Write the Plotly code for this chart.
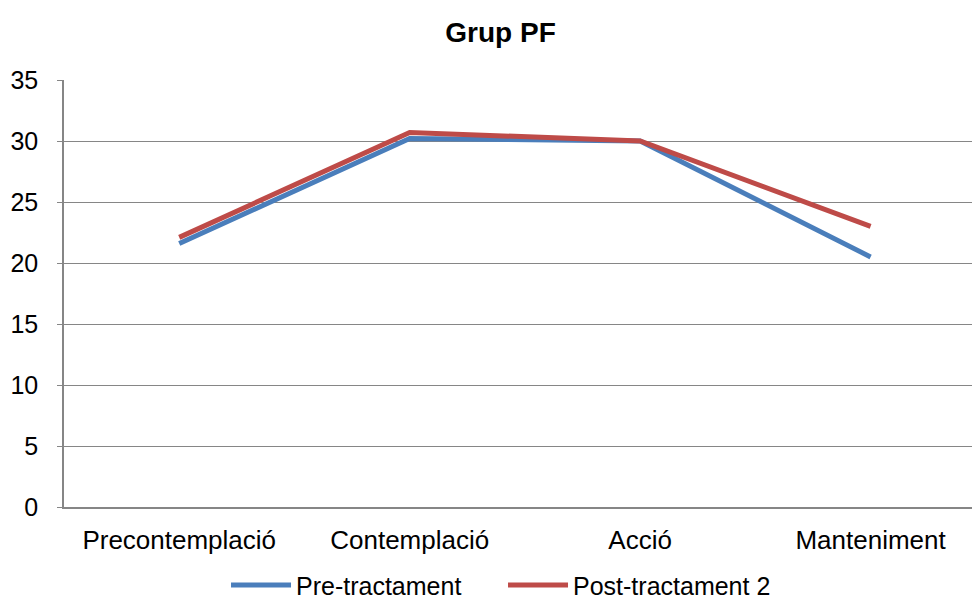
import plotly.graph_objects as go

categories = ["Precontemplació", "Contemplació", "Acció", "Manteniment"]
pre = [21.6, 30.2, 30.0, 20.5]
post = [22.1, 30.7, 30.0, 23.0]
y_ticks = [0, 5, 10, 15, 20, 25, 30, 35]

fig = go.Figure()
fig.add_trace(go.Scatter(x=categories, y=pre, mode="lines", name="Pre-tractament",
                         line=dict(color="#4A7EBB", width=5)))
fig.add_trace(go.Scatter(x=categories, y=post, mode="lines", name="Post-tractament 2",
                         line=dict(color="#BE4B48", width=5)))

font_family = "Liberation Sans, Arial, sans-serif"
fig.update_layout(
    width=972, height=605,
    paper_bgcolor="white", plot_bgcolor="white",
    margin=dict(l=64, r=0, t=80, b=98, autoexpand=False),
    title=dict(text="<b>Grup PF</b>", x=0.515, xanchor="center", y=0.947, yanchor="middle",
               font=dict(family=font_family, size=28, color="black")),
    font=dict(family=font_family, size=26, color="black"),
    showlegend=True,
    legend=dict(orientation="h", x=0.4835, xanchor="center", y=-0.183, yanchor="middle",
                bgcolor="rgba(0,0,0,0)", font=dict(size=25), itemwidth=60,
                entrywidth=202, entrywidthmode="pixels"),
    xaxis=dict(range=[-0.5, 3.44], showgrid=False, showline=True, linecolor="#868686",
               linewidth=1.5, ticks="", tickfont=dict(size=26), ticklabelstandoff=9,
               automargin=False),
    yaxis=dict(range=[0, 35], tickvals=y_ticks, showgrid=True, gridcolor="#868686",
               gridwidth=1.2, showline=True, linecolor="#868686", linewidth=1.5,
               ticks="outside", ticklen=5, tickcolor="#868686", tickfont=dict(size=25),
               ticklabelstandoff=14, zeroline=False, automargin=False),
)
fig.write_html("out.html")
